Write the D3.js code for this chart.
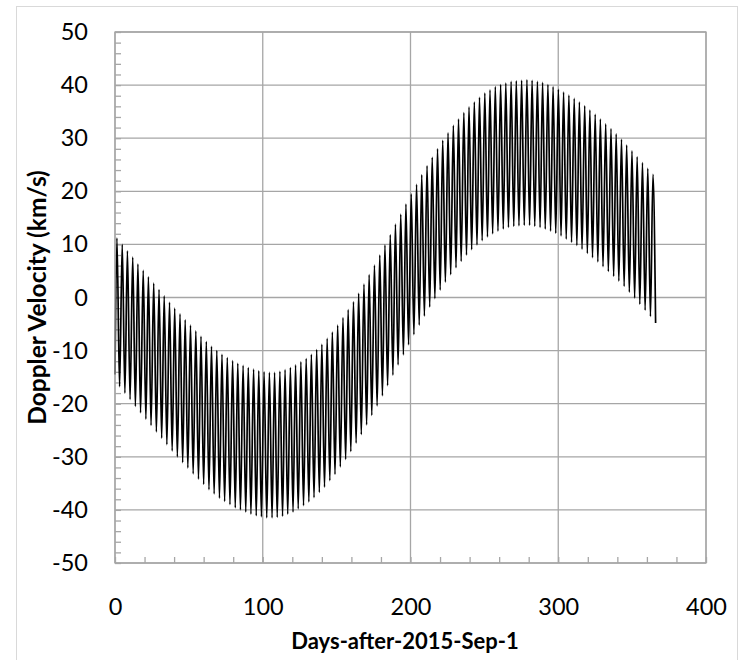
<!DOCTYPE html>
<html>
<head>
<meta charset="utf-8">
<script src="https://cdn.jsdelivr.net/npm/d3@7"></script>
<style>
  body { margin: 0; background: #fff; }
  svg text { font-family: Lato, "Open Sans", sans-serif; fill: #000; }
</style>
</head>
<body>
<svg id="chart"></svg>
<script>
// values: the line swings between these peaks and troughs
let startDay = 0;
let startVel = -14.5;

let peakDay = [
  1.3, 4.9, 8.4, 12.0, 15.5, 19.1, 22.6, 26.2, 29.8, 33.3,
  36.9, 40.4, 44.0, 47.5, 51.1, 54.7, 58.2, 61.8, 65.3, 68.9,
  72.4, 76.0, 79.6, 83.1, 86.7, 90.2, 93.8, 97.3, 100.9, 104.5,
  108.0, 111.6, 115.1, 118.7, 122.2, 125.8, 129.4, 132.9, 136.5, 140.0,
  143.6, 147.1, 150.7, 154.3, 157.8, 161.4, 164.9, 168.5, 172.0, 175.6,
  179.2, 182.7, 186.3, 189.8, 193.4, 196.9, 200.5, 204.1, 207.6, 211.2,
  214.7, 218.3, 221.8, 225.4, 229.0, 232.5, 236.1, 239.6, 243.2, 246.7,
  250.3, 253.8, 257.4, 261.0, 264.5, 268.1, 271.6, 275.2, 278.8, 282.3,
  285.9, 289.4, 293.0, 296.5, 300.1, 303.6, 307.2, 310.8, 314.3, 317.9,
  321.4, 325.0, 328.5, 332.1, 335.7, 339.2, 342.8, 346.3, 349.9, 353.4,
  357.0, 360.6, 364.1
];

let peakVel = [
  11.2, 10.0, 8.8, 7.6, 6.3, 5.1, 3.9, 2.7, 1.5, 0.3,
  -0.9, -2.0, -3.1, -4.2, -5.2, -6.3, -7.3, -8.3, -9.2, -10.0,
  -10.7, -11.3, -11.9, -12.4, -12.8, -13.2, -13.5, -13.8, -14.0, -14.1,
  -14.1, -13.9, -13.6, -13.2, -12.7, -12.1, -11.5, -10.7, -9.8, -8.8,
  -7.7, -6.5, -5.2, -3.8, -2.3, -0.8, 0.8, 2.5, 4.3, 6.1,
  8.0, 9.9, 11.8, 13.8, 15.7, 17.6, 19.5, 21.3, 23.1, 24.8,
  26.4, 28.0, 29.6, 31.0, 32.4, 33.6, 34.8, 35.9, 36.8, 37.7,
  38.5, 39.1, 39.7, 40.1, 40.4, 40.7, 40.8, 40.9, 41.0, 40.9,
  40.7, 40.5, 40.1, 39.7, 39.2, 38.7, 38.1, 37.5, 36.8, 36.1,
  35.3, 34.5, 33.6, 32.7, 31.8, 30.8, 29.8, 28.7, 27.6, 26.5,
  25.4, 24.3, 23.2
];

let troughDay = [
  3.1, 6.7, 10.2, 13.8, 17.3, 20.9, 24.4, 28.0, 31.6, 35.1,
  38.7, 42.2, 45.8, 49.3, 52.9, 56.5, 60.0, 63.6, 67.1, 70.7,
  74.2, 77.8, 81.4, 84.9, 88.5, 92.0, 95.6, 99.1, 102.7, 106.3,
  109.8, 113.4, 116.9, 120.5, 124.0, 127.6, 131.2, 134.7, 138.3, 141.8,
  145.4, 148.9, 152.5, 156.1, 159.6, 163.2, 166.7, 170.3, 173.8, 177.4,
  181.0, 184.5, 188.1, 191.6, 195.2, 198.7, 202.3, 205.9, 209.4, 213.0,
  216.5, 220.1, 223.6, 227.2, 230.8, 234.3, 237.9, 241.4, 245.0, 248.5,
  252.1, 255.6, 259.2, 262.8, 266.3, 269.9, 273.4, 277.0, 280.6, 284.1,
  287.7, 291.2, 294.8, 298.3, 301.9, 305.4, 309.0, 312.6, 316.1, 319.7,
  323.2, 326.8, 330.3, 333.9, 337.5, 341.0, 344.6, 348.1, 351.7, 355.2,
  358.8, 362.4, 365.9
];

let troughVel = [
  -16.8, -18.0, -19.2, -20.5, -21.7, -22.9, -24.1, -25.3, -26.5, -27.7,
  -28.9, -30.0, -31.1, -32.1, -33.2, -34.2, -35.2, -36.2, -37.0, -37.8,
  -38.4, -39.0, -39.6, -40.0, -40.4, -40.8, -41.1, -41.3, -41.5, -41.5,
  -41.4, -41.2, -40.8, -40.4, -39.8, -39.2, -38.5, -37.7, -36.7, -35.7,
  -34.5, -33.3, -31.9, -30.5, -29.0, -27.4, -25.8, -24.0, -22.2, -20.4,
  -18.5, -16.6, -14.6, -12.7, -10.8, -8.9, -7.0, -5.2, -3.5, -1.8,
  -0.2, 1.4, 2.9, 4.3, 5.6, 6.8, 8.0, 9.0, 9.9, 10.7,
  11.4, 12.0, 12.5, 12.9, 13.2, 13.4, 13.5, 13.6, 13.6, 13.4,
  13.2, 12.9, 12.5, 12.1, 11.6, 11.0, 10.4, 9.8, 9.1, 8.3,
  7.5, 6.7, 5.8, 4.9, 4.0, 3.1, 2.1, 1.0, -0.1, -1.3,
  -2.4, -3.6, -4.8
];

let xTicks = [0, 100, 200, 300, 400];
let yTicks = [-50, -40, -30, -20, -10, 0, 10, 20, 30, 40, 50];

let width = 747;
let height = 660;
let plotLeft = 115;
let plotRight = 706;
let plotTop = 32;
let plotBottom = 563;
let gridColor = '#a6a6a6';

let svg = d3.select('#chart')
  .attr('width', width)
  .attr('height', height);

// chart area frame
svg.append('rect')
  .attr('x', 16.5)
  .attr('y', 6.5)
  .attr('width', 721)
  .attr('height', 700)
  .attr('fill', 'none')
  .attr('stroke', '#d9d9d9')
  .attr('stroke-width', 1);

let xScale = d3.scaleLinear().domain([0, 400]).range([plotLeft, plotRight]);
let yScale = d3.scaleLinear().domain([-50, 50]).range([plotBottom, plotTop]);

// grid
svg.append('g')
  .selectAll('line')
  .data(yTicks)
  .enter()
  .append('line')
  .attr('x1', plotLeft)
  .attr('x2', plotRight)
  .attr('y1', d => yScale(d))
  .attr('y2', d => yScale(d))
  .attr('stroke', gridColor)
  .attr('stroke-width', 1.3);

svg.append('g')
  .selectAll('line')
  .data(xTicks)
  .enter()
  .append('line')
  .attr('x1', d => xScale(d))
  .attr('x2', d => xScale(d))
  .attr('y1', plotTop)
  .attr('y2', plotBottom)
  .attr('stroke', gridColor)
  .attr('stroke-width', 1.3);

// minor ticks, inside the plot
let yMinor = svg.append('g')
  .attr('transform', 'translate(' + plotLeft + ',0)')
  .call(d3.axisLeft(yScale).tickValues(d3.range(-50, 51, 2)).tickSize(-6).tickFormat(''));
let xMinor = svg.append('g')
  .attr('transform', 'translate(0,' + plotBottom + ')')
  .call(d3.axisBottom(xScale).tickValues(d3.range(0, 401, 20)).tickSize(-6).tickFormat(''));
[yMinor, xMinor].forEach(g => {
  g.select('.domain').remove();
  g.selectAll('line').attr('stroke', gridColor).attr('stroke-width', 1.3);
});

// tick labels (plain hyphen for negatives, as in the original)
let yAxis = svg.append('g')
  .attr('transform', 'translate(' + plotLeft + ',0)')
  .call(d3.axisLeft(yScale).tickValues(yTicks).tickSize(0).tickPadding(27)
    .tickFormat(d => String(d)));
let xAxis = svg.append('g')
  .attr('transform', 'translate(0,' + plotBottom + ')')
  .call(d3.axisBottom(xScale).tickValues(xTicks).tickSize(0)
    .tickFormat(d => String(d)));
[yAxis, xAxis].forEach(g => {
  g.select('.domain').remove();
  g.selectAll('text')
    .style('font-family', 'Lato, sans-serif')
    .style('font-size', '23.5px')
    .attr('fill', '#000');
});
xAxis.selectAll('text').attr('dy', null).attr('y', 52);

// the velocity line
let points = [[startDay, startVel]];
peakDay.forEach((d, i) => {
  points.push([d, peakVel[i]]);
  points.push([troughDay[i], troughVel[i]]);
});

let line = d3.line()
  .x(d => xScale(d[0]))
  .y(d => yScale(d[1]))
  .curve(d3.curveMonotoneX);

svg.append('path')
  .datum(points)
  .attr('d', line)
  .attr('fill', 'none')
  .attr('stroke', '#000')
  .attr('stroke-width', 1.7)
  .attr('stroke-linejoin', 'round');

// plot border
svg.append('rect')
  .attr('x', plotLeft)
  .attr('y', plotTop)
  .attr('width', plotRight - plotLeft)
  .attr('height', plotBottom - plotTop)
  .attr('fill', 'none')
  .attr('stroke', gridColor)
  .attr('stroke-width', 1.3);

// axis titles
svg.append('text')
  .attr('x', 405)
  .attr('y', 649)
  .attr('text-anchor', 'middle')
  .style('font-weight', 'bold')
  .style('font-size', '22px')
  .text('Days-after-2015-Sep-1');

svg.append('text')
  .attr('transform', 'translate(46,' + ((plotTop + plotBottom) / 2) + ') rotate(-90)')
  .attr('text-anchor', 'middle')
  .style('font-weight', 'bold')
  .style('font-size', '24.5px')
  .text('Doppler Velocity (km/s)');
</script>
</body>
</html>
